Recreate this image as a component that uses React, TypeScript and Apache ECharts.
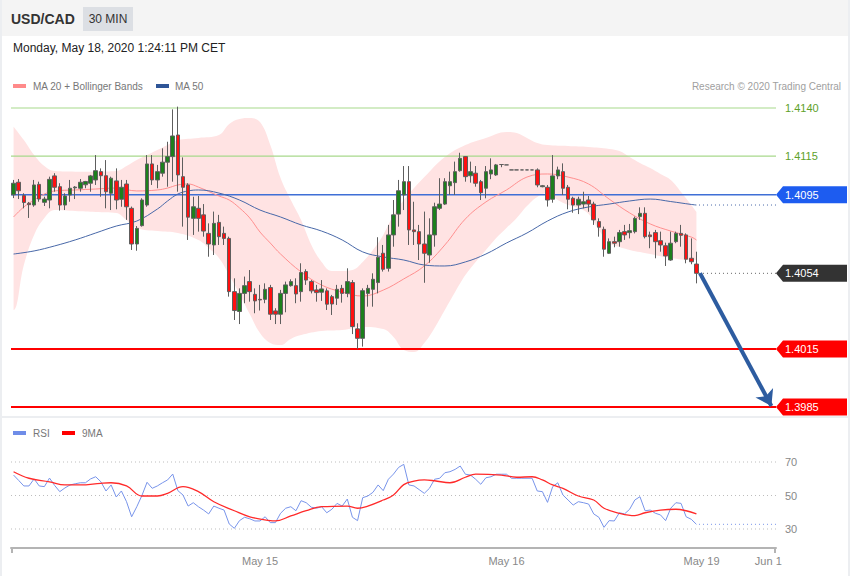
import React, { useEffect, useRef } from "react";
import * as echarts from "echarts";

const FONT = '"Liberation Sans", Arial, sans-serif';

// ---------- data ----------
const SLOTS = 149; // 134 candles + empty right margin
const timeTickIndex = [48, 96, 134, 147];
const timeTickLabel = ["May 15", "May 16", "May 19", "Jun 1"];

// [open, close, low, high]
const candles: number[][] = [
  [1.4095, 1.4101, 1.40933, 1.41027],
  [1.41015, 1.40971, 1.40928, 1.41032],
  [1.40946, 1.4091, 1.4088, 1.40958],
  [1.40906, 1.40899, 1.4083, 1.40913],
  [1.40897, 1.41001, 1.40888, 1.41027],
  [1.41004, 1.40928, 1.40914, 1.41018],
  [1.40911, 1.40928, 1.40892, 1.4094],
  [1.40923, 1.4103, 1.4088, 1.41044],
  [1.41048, 1.40989, 1.40966, 1.41062],
  [1.40992, 1.40897, 1.40868, 1.4101],
  [1.40897, 1.40944, 1.40871, 1.40958],
  [1.40949, 1.40984, 1.40914, 1.41027],
  [1.40986, 1.4099, 1.40928, 1.40995],
  [1.40984, 1.41015, 1.40966, 1.41032],
  [1.41002, 1.41019, 1.40984, 1.41022],
  [1.4101, 1.41048, 1.40966, 1.41053],
  [1.41027, 1.41075, 1.41001, 1.41156],
  [1.4107, 1.41049, 1.4094, 1.41087],
  [1.41049, 1.40966, 1.4088, 1.4113],
  [1.40958, 1.41036, 1.40871, 1.41044],
  [1.41022, 1.40923, 1.40875, 1.41087],
  [1.40927, 1.40989, 1.40888, 1.41027],
  [1.41006, 1.40888, 1.4082, 1.41027],
  [1.4088, 1.40695, 1.40664, 1.40889],
  [1.40695, 1.40776, 1.4066, 1.40788],
  [1.4079, 1.40923, 1.40785, 1.40932],
  [1.40897, 1.4111, 1.40888, 1.41156],
  [1.4111, 1.41027, 1.41001, 1.41156],
  [1.41027, 1.4107, 1.40984, 1.41105],
  [1.41062, 1.41119, 1.41044, 1.41191],
  [1.41119, 1.41148, 1.40992, 1.41225],
  [1.41148, 1.41255, 1.41018, 1.41393],
  [1.4126, 1.41053, 1.40966, 1.41407],
  [1.41044, 1.40989, 1.40785, 1.41144],
  [1.41001, 1.40834, 1.40716, 1.4101],
  [1.40828, 1.40888, 1.40742, 1.4094],
  [1.4088, 1.40828, 1.40759, 1.40944],
  [1.40846, 1.40762, 1.40733, 1.40902],
  [1.4075, 1.40695, 1.40629, 1.40802],
  [1.4069, 1.40802, 1.40638, 1.40863],
  [1.40807, 1.40733, 1.4069, 1.40846],
  [1.4075, 1.40724, 1.4069, 1.40785],
  [1.40724, 1.40448, 1.40422, 1.40733],
  [1.40448, 1.4035, 1.40301, 1.40517],
  [1.40345, 1.40439, 1.4028, 1.40465],
  [1.40439, 1.40479, 1.40388, 1.40526],
  [1.405, 1.40448, 1.40396, 1.4056],
  [1.40434, 1.404, 1.40336, 1.40465],
  [1.40408, 1.40405, 1.4035, 1.40483],
  [1.40408, 1.4046, 1.40388, 1.40491],
  [1.40469, 1.40331, 1.40301, 1.40483],
  [1.40348, 1.40331, 1.4028, 1.40362],
  [1.40331, 1.40439, 1.4028, 1.40457],
  [1.40439, 1.40483, 1.40341, 1.405],
  [1.40479, 1.405, 1.40474, 1.40512],
  [1.40479, 1.40436, 1.40388, 1.40517],
  [1.40448, 1.40547, 1.40396, 1.40595],
  [1.40552, 1.40508, 1.40483, 1.40564],
  [1.405, 1.40452, 1.40439, 1.40508],
  [1.40457, 1.40443, 1.40396, 1.40483],
  [1.40445, 1.40462, 1.404, 1.40508],
  [1.40452, 1.40383, 1.40353, 1.40465],
  [1.40422, 1.40384, 1.40327, 1.40431],
  [1.40414, 1.4046, 1.40379, 1.40483],
  [1.40465, 1.40439, 1.40391, 1.40483],
  [1.40439, 1.405, 1.40419, 1.40569],
  [1.40495, 1.40267, 1.40228, 1.40508],
  [1.40255, 1.40206, 1.4015, 1.40284],
  [1.40206, 1.40453, 1.40163, 1.40465],
  [1.40439, 1.40465, 1.4037, 1.40483],
  [1.4046, 1.40512, 1.4037, 1.40543],
  [1.40495, 1.40626, 1.40439, 1.4073],
  [1.40647, 1.40564, 1.40552, 1.4069],
  [1.40569, 1.40742, 1.40552, 1.40794],
  [1.40742, 1.40846, 1.40681, 1.40923],
  [1.4085, 1.40971, 1.40785, 1.41027],
  [1.40949, 1.41018, 1.40871, 1.41099],
  [1.41018, 1.40768, 1.4069, 1.41099],
  [1.40768, 1.40759, 1.4069, 1.40914],
  [1.40759, 1.40695, 1.40612, 1.40794],
  [1.40695, 1.40647, 1.40494, 1.40863],
  [1.40638, 1.40742, 1.40598, 1.40828],
  [1.40742, 1.40888, 1.40681, 1.40909],
  [1.4088, 1.40902, 1.40871, 1.41036],
  [1.40902, 1.41018, 1.40897, 1.41036],
  [1.40997, 1.41018, 1.40949, 1.4107],
  [1.41013, 1.4107, 1.40949, 1.41122],
  [1.41075, 1.41139, 1.4107, 1.41168],
  [1.41148, 1.41044, 1.41018, 1.41151],
  [1.41049, 1.4107, 1.41013, 1.41122],
  [1.41062, 1.4101, 1.40992, 1.41099],
  [1.41018, 1.40961, 1.40923, 1.41027],
  [1.40984, 1.4107, 1.40932, 1.41099],
  [1.41058, 1.41079, 1.41031, 1.41139],
  [1.41053, 1.41105, 1.41048, 1.4111],
  [1.41107, 1.41107, 1.41093, 1.41107],
  [1.41105, 1.41105, 1.41105, 1.41105],
  [1.41079, 1.41079, 1.41079, 1.41079],
  [1.41079, 1.41079, 1.41079, 1.41079],
  [1.41079, 1.41079, 1.41079, 1.41079],
  [1.41079, 1.41079, 1.41079, 1.41079],
  [1.41079, 1.41079, 1.41079, 1.41079],
  [1.41079, 1.41001, 1.40989, 1.41087],
  [1.40992, 1.40997, 1.40989, 1.41001],
  [1.40989, 1.40923, 1.40889, 1.41001],
  [1.40927, 1.41048, 1.40909, 1.41156],
  [1.41048, 1.41079, 1.41031, 1.41096],
  [1.4107, 1.40984, 1.40949, 1.41113],
  [1.40989, 1.40927, 1.40875, 1.41001],
  [1.40932, 1.40897, 1.40857, 1.4094],
  [1.40897, 1.40927, 1.4085, 1.4094],
  [1.40902, 1.40914, 1.4088, 1.40966],
  [1.40923, 1.40902, 1.40862, 1.40944],
  [1.40902, 1.4082, 1.40794, 1.40914],
  [1.40811, 1.40782, 1.40733, 1.40828],
  [1.40771, 1.40668, 1.40629, 1.40785],
  [1.40647, 1.40707, 1.40643, 1.40724],
  [1.40707, 1.40699, 1.40678, 1.40733],
  [1.40707, 1.40754, 1.40681, 1.40768],
  [1.40759, 1.40742, 1.40716, 1.40794],
  [1.40754, 1.40764, 1.40724, 1.40799],
  [1.40759, 1.40828, 1.4075, 1.40837],
  [1.40837, 1.40854, 1.4082, 1.40885],
  [1.40854, 1.40733, 1.40724, 1.40885],
  [1.40742, 1.40733, 1.40673, 1.40759],
  [1.40754, 1.40707, 1.40621, 1.40768],
  [1.40712, 1.4069, 1.40655, 1.40759],
  [1.40686, 1.40633, 1.40581, 1.40702],
  [1.40612, 1.40699, 1.40608, 1.40759],
  [1.40707, 1.4075, 1.40699, 1.40759],
  [1.4075, 1.4074, 1.40681, 1.40794],
  [1.40742, 1.40616, 1.40595, 1.4075],
  [1.40621, 1.40603, 1.4059, 1.40724],
  [1.40591, 1.40543, 1.40491, 1.40655],
];

// Bollinger bands / moving averages: [candle index, price]
const bbUpper: number[][] = [
  [0, 1.41303], [2, 1.41234], [4, 1.41156], [6, 1.41099], [8, 1.41073], [12, 1.4107],
  [16, 1.4107], [20, 1.41073], [22, 1.41099], [24, 1.4113], [26, 1.41156], [28, 1.41182],
  [30, 1.41208], [32, 1.41234], [36, 1.41245], [40, 1.4126], [42, 1.41317], [44, 1.41343],
  [46, 1.41348], [48, 1.41327], [50, 1.41208], [52, 1.41037], [54, 1.40923], [56, 1.40819],
  [58, 1.4069], [60, 1.40602], [62, 1.40555], [64, 1.40555], [66, 1.4056], [68, 1.40602],
  [70, 1.40664], [72, 1.40742], [74, 1.40845], [76, 1.40923], [78, 1.40985], [80, 1.41042],
  [84, 1.41146], [88, 1.41208], [92, 1.41245], [96, 1.41276], [98, 1.4127], [100, 1.41245],
  [102, 1.41219], [104, 1.41208], [108, 1.41203], [112, 1.41198], [116, 1.41188],
  [118, 1.41177], [120, 1.41146], [122, 1.41115], [124, 1.41089], [126, 1.41058],
  [128, 1.41027], [130, 1.40965], [132, 1.40897], [133, 1.40861],
];
const bbLower: number[][] = [
  [0, 1.40353], [2, 1.40586], [4, 1.40742], [6, 1.4083], [8, 1.40871], [12, 1.40866],
  [16, 1.40861], [20, 1.40856], [22, 1.40819], [24, 1.40778], [28, 1.40762], [32, 1.40752],
  [36, 1.40716], [38, 1.40674], [40, 1.40622], [42, 1.40534], [44, 1.40436], [46, 1.40332],
  [48, 1.40234], [50, 1.40182], [52, 1.40171], [54, 1.40203], [56, 1.40223], [60, 1.40244],
  [64, 1.40249], [68, 1.40265], [72, 1.40254], [74, 1.40213], [76, 1.40145], [78, 1.40135],
  [80, 1.40182], [82, 1.4026], [84, 1.40353], [86, 1.40446], [88, 1.40534], [90, 1.40602],
  [92, 1.40664], [94, 1.40726], [96, 1.40778], [98, 1.4083], [100, 1.40892], [102, 1.40939],
  [104, 1.40959], [106, 1.40923], [108, 1.40897], [110, 1.40882], [112, 1.40851],
  [114, 1.40768], [116, 1.407], [118, 1.40679], [120, 1.40664], [124, 1.40643],
  [128, 1.40622], [132, 1.40612], [133, 1.40612],
];
const ma20: number[][] = [
  [0, 1.40835], [2, 1.40887], [4, 1.40923], [6, 1.40954], [8, 1.4097], [12, 1.40975],
  [16, 1.4098], [20, 1.40985], [24, 1.4097], [28, 1.40975], [30, 1.40985], [32, 1.41001],
  [34, 1.41006], [36, 1.4099], [40, 1.40944], [42, 1.40923], [44, 1.40882], [46, 1.4083],
  [48, 1.40757], [50, 1.407], [52, 1.40643], [56, 1.4055], [60, 1.40482], [64, 1.40446],
  [68, 1.40425], [72, 1.40456], [76, 1.40514], [80, 1.40581], [84, 1.4069], [88, 1.40825],
  [92, 1.40913], [96, 1.40975], [100, 1.41042], [104, 1.41058], [108, 1.41042],
  [112, 1.41006], [116, 1.40928], [120, 1.40856], [124, 1.40799], [128, 1.40762],
  [132, 1.40731], [133, 1.40716],
];
const ma50: number[][] = [
  [0, 1.40643], [4, 1.40659], [8, 1.40685], [12, 1.40716], [16, 1.40752], [20, 1.40788],
  [24, 1.40814], [28, 1.40876], [30, 1.40918], [32, 1.40954], [34, 1.4097], [36, 1.40975],
  [40, 1.40959], [44, 1.40923], [48, 1.40871], [52, 1.40835], [56, 1.40794], [60, 1.40762],
  [64, 1.40716], [68, 1.40654], [72, 1.40628], [76, 1.40612], [80, 1.40586], [84, 1.40581],
  [88, 1.40602], [92, 1.40643], [96, 1.407], [100, 1.40752], [104, 1.40814], [108, 1.40861],
  [112, 1.40887], [116, 1.40902], [120, 1.40918], [124, 1.40928], [128, 1.40915],
  [132, 1.409], [133, 1.40897],
];

const rsi: number[] = [
  62.2, 59.0, 55.7, 55.7, 59.9, 55.7, 55.3, 60.4, 56.0, 52.3,
  54.5, 56.3, 57.0, 57.6, 57.6, 59.9, 61.2, 58.2, 52.7, 56.3,
  49.1, 52.7, 46.3, 37.3, 43.3, 50.0, 57.9, 54.3, 55.7, 57.6,
  59.3, 62.8, 52.9, 50.3, 43.7, 45.7, 43.3, 41.3, 39.0, 43.7,
  42.4, 41.3, 33.0, 30.4, 35.0, 37.0, 36.1, 34.8, 34.8, 37.3,
  33.8, 33.8, 39.4, 42.4, 43.3, 40.9, 46.9, 45.7, 43.0, 42.4,
  43.3, 39.7, 41.8, 45.3, 43.7, 47.9, 37.0, 35.0, 48.7, 49.7,
  51.9, 56.3, 52.9, 59.7, 62.8, 66.8, 68.6, 56.3, 55.7, 53.5,
  51.3, 54.3, 59.7, 60.3, 63.6, 64.2, 65.6, 67.6, 62.7, 62.2,
  59.7, 56.7, 60.6, 61.2, 62.7, 62.7, 62.7, 60.3, 60.3, 60.3,
  60.3, 60.3, 52.7, 52.3, 45.9, 55.3, 57.6, 50.3, 47.3, 44.3,
  46.3, 45.7, 44.9, 39.0, 37.0, 31.0, 35.0, 34.8, 39.7, 39.0,
  41.8, 47.3, 49.3, 40.9, 41.3, 39.4, 38.4, 35.0, 42.4, 45.7,
  45.3, 37.3, 35.8, 32.8,
];
const rsiMA9: number[][] = [
  [0, 64.2], [3, 60.3], [7, 58.2], [10, 56.3], [13, 56.3], [17, 57.3], [19, 57.6],
  [22, 55.7], [25, 49.7], [28, 49.7], [30, 51.3], [33, 55.3], [36, 52.3], [39, 46.3],
  [43, 40.9], [46, 37.3], [50, 35.0], [51, 34.8], [54, 37.8], [57, 40.9], [60, 43.3],
  [65, 43.7], [67, 42.4], [69, 43.7], [72, 47.3], [74, 50.3], [76, 56.5], [78, 58.6],
  [80, 59.3], [82, 58.8], [85, 57.6], [88, 60.9], [90, 62.8], [95, 62.2], [98, 60.9],
  [101, 61.2], [103, 59.3], [105, 56.3], [107, 54.3], [110, 49.7], [113, 47.3],
  [115, 42.4], [118, 39.4], [121, 38.0], [123, 39.7], [126, 41.3], [129, 41.8],
  [131, 40.9], [133, 39.0],
];

const resistances = [1.414, 1.4115];
const pivot = 1.4095;
const supports = [1.4015, 1.3985];
const rsiLevels = [70, 50, 30];
const forecastArrow = { fromIndex: 133.7, toIndex: 147.6, toPrice: 1.39855 };

// axis extents
const PRICE_MIN = 1.398085;
const PRICE_MAX = 1.414933;
const RSI_MIN = 18.66;
const RSI_MAX = 80.15;

export default function App() {
  const ref = useRef<HTMLDivElement>(null);

  useEffect(() => {
    document.body.style.margin = "0";
    if (!ref.current) return;
    const chart = echarts.init(ref.current, undefined, { renderer: "svg" });

    const cats = Array.from({ length: SLOTS }, (_, i) => String(i));
    const lastIdx = candles.length - 1;
    const lastClose = candles[lastIdx][1];
    const lastMa50 = ma50[ma50.length - 1][1];
    const lastRsi = rsi[rsi.length - 1];
    const dotted = [1, 3];
    const X0 = -0.5;
    const X1 = SLOTS - 0.5;

    // white cover under the lower band, widened slightly so no pink edge leaks
    const lowerCover = [
      [bbLower[0][0] - 0.45, bbLower[0][1]],
      ...bbLower,
      [bbLower[bbLower.length - 1][0] + 0.45, bbLower[bbLower.length - 1][1]],
    ];

    const hLine = (
      value: number,
      color: string,
      width: number,
      type: any,
      xAxisIndex: number,
      yAxisIndex: number,
      z: number,
      from = X0
    ) => ({
      type: "line",
      xAxisIndex,
      yAxisIndex,
      z,
      data: [
        [from, value],
        [X1, value],
      ],
      symbol: "none",
      silent: true,
      lineStyle: { color, width, type },
    });

    const option: any = {
      animation: false,
      backgroundColor: "#ffffff",
      textStyle: { fontFamily: FONT },
      grid: [
        { left: 11, right: 74, top: 90, height: 325 },
        { left: 11, right: 74, top: 445, height: 103 },
      ],
      xAxis: [
        { type: "category", gridIndex: 0, data: cats, show: false },
        { type: "value", gridIndex: 0, min: X0, max: X1, show: false },
        {
          type: "category",
          gridIndex: 1,
          data: cats,
          axisLine: { lineStyle: { color: "#b4b4b4", width: 2 } },
          axisTick: { show: false },
          splitLine: { show: false },
          axisLabel: {
            interval: (i: number) => timeTickIndex.includes(i),
            formatter: (_v: string, i: number) => {
              const k = timeTickIndex.indexOf(i);
              return k >= 0 ? timeTickLabel[k] : "";
            },
            color: "#888888",
            fontSize: 11,
            margin: 7,
            fontFamily: FONT,
          },
        },
        { type: "value", gridIndex: 1, min: X0, max: X1, show: false },
      ],
      yAxis: [
        { type: "value", gridIndex: 0, min: PRICE_MIN, max: PRICE_MAX, show: false },
        { type: "value", gridIndex: 1, min: RSI_MIN, max: RSI_MAX, show: false },
      ],
      series: [
        {
          type: "line",
          xAxisIndex: 1,
          yAxisIndex: 0,
          z: 1,
          data: bbUpper,
          smooth: 0.4,
          symbol: "none",
          silent: true,
          lineStyle: { width: 0, opacity: 0 },
          areaStyle: { color: "#ffe3e3", opacity: 1, origin: "start" },
        },
        {
          type: "line",
          xAxisIndex: 1,
          yAxisIndex: 0,
          z: 1,
          data: lowerCover,
          smooth: 0.4,
          symbol: "none",
          silent: true,
          lineStyle: { width: 0, opacity: 0 },
          areaStyle: { color: "#ffffff", opacity: 1, origin: "start" },
        },
        ...resistances.map((v) => hLine(v, "#a8d98c", 1.2, "solid", 1, 0, 2)),
        hLine(pivot, "#3f6fd6", 1.5, "solid", 1, 0, 2),
        ...supports.map((v) => hLine(v, "#ff0000", 2, "solid", 1, 0, 2)),
        {
          type: "line",
          xAxisIndex: 1,
          yAxisIndex: 0,
          z: 3,
          data: ma20,
          smooth: 0.4,
          symbol: "none",
          silent: true,
          lineStyle: { color: "#ff8f8f", width: 1 },
        },
        {
          type: "line",
          xAxisIndex: 1,
          yAxisIndex: 0,
          z: 3,
          data: ma50,
          smooth: 0.4,
          symbol: "none",
          silent: true,
          lineStyle: { color: "#4868a8", width: 1 },
        },
        {
          type: "candlestick",
          xAxisIndex: 0,
          yAxisIndex: 0,
          z: 5,
          data: candles,
          barWidth: 4,
          silent: true,
          itemStyle: {
            color: "#1c801c",
            color0: "#ff1010",
            borderColor: "#5e5e5e",
            borderColor0: "#5e5e5e",
            borderWidth: 1,
          },
        },
        hLine(lastMa50, "#4868a8", 1, dotted, 1, 0, 4, lastIdx + 0.5),
        {
          ...hLine(lastClose, "#666666", 1, dotted, 1, 0, 4, lastIdx + 0.5),
          markLine: {
            silent: true,
            symbol: ["none", "arrow"],
            symbolSize: 15,
            label: { show: false },
            lineStyle: { color: "#2d5ca0", width: 4, type: "solid" },
            data: [
              [
                { coord: [forecastArrow.fromIndex, lastClose] },
                { coord: [forecastArrow.toIndex, forecastArrow.toPrice] },
              ],
            ],
          },
        },
        ...rsiLevels.map((v) => hLine(v, "#bdbdbd", 1, dotted, 3, 1, 1)),
        {
          type: "line",
          xAxisIndex: 3,
          yAxisIndex: 1,
          z: 3,
          data: rsi.map((v, i) => [i, v]),
          symbol: "none",
          silent: true,
          lineStyle: { color: "#7894ea", width: 1 },
        },
        {
          type: "line",
          xAxisIndex: 3,
          yAxisIndex: 1,
          z: 4,
          data: rsiMA9,
          smooth: 0.4,
          symbol: "none",
          silent: true,
          lineStyle: { color: "#ff2a2a", width: 1.3 },
        },
        hLine(lastRsi, "#7894ea", 1, dotted, 3, 1, 3, lastIdx + 0.5),
      ],
    };

    chart.setOption(option);

    const left = chart.convertToPixel({ xAxisIndex: 1 }, X0) as number;
    const right = chart.convertToPixel({ xAxisIndex: 1 }, X1) as number;
    const txt = (
      x: number,
      y: number,
      text: string,
      font: string,
      fill: string,
      align = "left"
    ) => ({
      type: "text",
      silent: true,
      z: 101,
      x,
      y,
      style: { text, font, fill, textAlign: align, textVerticalAlign: "middle" },
    });
    const box = (x: number, y: number, w: number, h: number, fill: string, z = 0) => ({
      type: "rect",
      silent: true,
      z,
      shape: { x, y, width: w, height: h },
      style: { fill },
    });
    const priceY = (v: number) => chart.convertToPixel({ yAxisIndex: 0 }, v) as number;
    const rsiY = (v: number) => chart.convertToPixel({ yAxisIndex: 1 }, v) as number;
    const axisY = rsiY(RSI_MIN);
    const tag = (value: number, color: string) => {
      const y = priceY(value);
      return [
        {
          type: "polygon",
          silent: true,
          z: 100,
          shape: {
            points: [
              [right, y],
              [right + 7, y - 8.5],
              [right + 71, y - 8.5],
              [right + 71, y + 8.5],
              [right + 7, y + 8.5],
            ],
          },
          style: { fill: color },
        },
        txt(right + 9, y, value.toFixed(4), `11px ${FONT}`, "#ffffff"),
      ];
    };

    const elements: any[] = [
      box(0, 0, 850, 36, "#f4f4f4", -10),
      box(0, 0, 2, 576, "#eceef1", 99),
      box(848, 0, 2, 576, "#eceef1", 99),
      box(0, 416, 850, 2, "#eceef1", 99),
      txt(11, 19, "USD/CAD", `bold 14px ${FONT}`, "#333333"),
      box(83, 7, 50, 24, "#dcdfe4", 50),
      txt(108, 19, "30 MIN", `12px ${FONT}`, "#333333", "center"),
      txt(13, 48, "Monday, May 18, 2020 1:24:11 PM CET", `12px ${FONT}`, "#222222"),
      box(13, 84, 13, 4, "#ff8a8a", 50),
      txt(33, 86, "MA 20 + Bollinger Bands", `10px ${FONT}`, "#777777"),
      box(156, 84, 13, 4, "#2f5597", 50),
      txt(175, 86, "MA 50", `10px ${FONT}`, "#777777"),
      txt(841, 86, "Research © 2020 Trading Central", `10px ${FONT}`, "#a0a0a0", "right"),
      box(13, 431, 13, 4, "#6f8de8", 50),
      txt(33, 433, "RSI", `10px ${FONT}`, "#777777"),
      box(62, 431, 13, 4, "#ff0000", 50),
      txt(82, 433, "9MA", `10px ${FONT}`, "#777777"),
      box(left, axisY, 2, 5, "#b4b4b4", 50),
      box(right - 2, axisY, 2, 5, "#b4b4b4", 50),
      ...resistances.map((v) =>
        txt(right + 9, priceY(v), v.toFixed(4), `11px ${FONT}`, "#5ea12a")
      ),
      ...rsiLevels.map((v) => txt(right + 9, rsiY(v), String(v), `11px ${FONT}`, "#888888")),
      ...tag(pivot, "#1d5cf0"),
      ...tag(lastClose, "#333333"),
      ...supports.flatMap((v) => tag(v, "#ff0000")),
    ];

    chart.setOption({ graphic: { elements } });

    return () => chart.dispose();
  }, []);

  return <div ref={ref} style={{ width: 850, height: 576 }} />;
}
